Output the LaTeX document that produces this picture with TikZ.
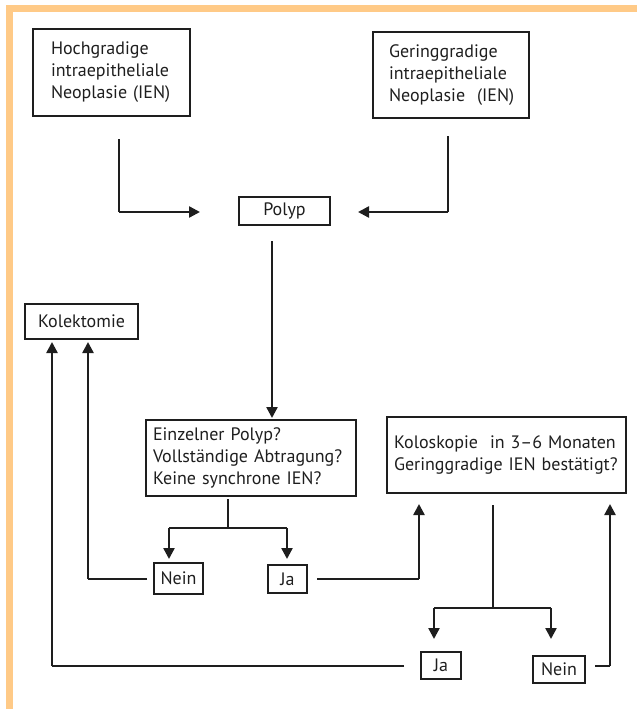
\documentclass[tikz,border=0pt]{standalone}
\usepackage{fontspec}
\setmainfont{PT Sans}
\usetikzlibrary{arrows.meta}
\definecolor{frameorange}{RGB}{255,202,135}
\definecolor{ink}{RGB}{30,30,30}
\tikzset{
  box/.style={draw=ink, line width=1.2pt, text=ink, font=\fontsize{18pt}{22pt}\selectfont, inner sep=0pt, minimum width=#1},
  multibox/.style={draw=ink, line width=1.2pt, text=ink, font=\fontsize{18pt}{22pt}\selectfont, align=left, inner ysep=0pt},
  thinln/.style={draw=ink, line width=1.2pt},
  midln/.style={draw=ink, line width=1.7pt},
  arr/.style={draw=ink, line width=2.4pt, -{Triangle[length=11pt,width=11pt]}},
}
\begin{document}
\begin{tikzpicture}[x=1pt,y=-1pt]
\useasboundingbox (0,0) rectangle (637,709);
% orange frame
\fill[frameorange] (6,5) rectangle (637,12);
\fill[frameorange] (6,5) rectangle (13,709);

% nodes
\node[multibox, text width=121pt, inner xsep=18pt, minimum height=87pt] (hoch) at (111.5,72.5)
  {\mbox{Hochgradige}\\\mbox{intraepitheliale}\\\mbox{Neoplasie (IEN)}};
\node[multibox, text width=124pt, inner xsep=16pt, minimum height=86pt] (ger) at (451,75)
  {\mbox{Geringgradige}\\\mbox{intraepitheliale}\\\mbox{Neoplasie\ \ (IEN)}};
\node[box=91pt, minimum height=28pt] (polyp) at (284.5,211) {Polyp};
\node[box=113pt, minimum height=35pt] (kol) at (81.5,321.5) {Kolektomie};
\node[multibox, text width=196pt, inner xsep=7pt, minimum height=76pt] (einz) at (251,458)
  {\mbox{Einzelner Polyp?}\\\mbox{Vollständige Abtragung?}\\\mbox{Keine synchrone IEN?}};
\node[multibox, text width=225pt, inner xsep=7pt, minimum height=76pt] (kolo) at (506.5,455)
  {\mbox{Koloskopie\ \ in 3–6 Monaten}\\\mbox{Geringgradige IEN bestätigt?}};
\node[box=49pt, minimum height=31pt] (nein1) at (178.5,578.5) {Nein};
\node[box=39pt, minimum height=28pt] (ja1) at (287.5,579) {Ja};
\node[box=40pt, minimum height=27pt] (ja2) at (441,665.5) {Ja};
\node[box=52pt, minimum height=27pt] (nein2) at (559,669.5) {Nein};

% connector coordinates
\coordinate (h1) at (119,139);  \coordinate (h2) at (119,212);  \coordinate (h3) at (200,212);
\coordinate (g1) at (448,136);  \coordinate (g2) at (448,212);  \coordinate (g3) at (358,212);
\coordinate (p1) at (272,241);  \coordinate (p2) at (272,418);
\coordinate (e1) at (228,499);  \coordinate (e2) at (228,528);
\coordinate (eL) at (169,528);  \coordinate (eR) at (287,528);
\coordinate (eLt) at (169,559); \coordinate (eRt) at (287,559);
\coordinate (n1) at (147,579);  \coordinate (n2) at (88,579);   \coordinate (n3) at (88,342);
\coordinate (j1) at (317,579);  \coordinate (j2) at (419,579);  \coordinate (j3) at (419,504);
\coordinate (k1) at (493,505);  \coordinate (k2) at (493,608);
\coordinate (kL) at (434,608);  \coordinate (kR) at (551,608);
\coordinate (kLt) at (434,639); \coordinate (kRt) at (551,639);
\coordinate (a1) at (404,666);  \coordinate (a2) at (52,666);   \coordinate (a3) at (52,342);
\coordinate (b1) at (595,666);  \coordinate (b2) at (610,666);  \coordinate (b3) at (610,504);

% Hochgradige -> Polyp
\draw[thinln] (h1) -- (h2);
\draw[arr] (h2) -- (h3);
% Geringgradige -> Polyp
\draw[thinln] (g1) -- (g2);
\draw[arr] (g2) -- (g3);
% Polyp -> Einzelner
\draw[arr] (p1) -- (p2);
% Einzelner branch
\draw[thinln] (e1) -- (e2);
\draw[midln] (eL) -- (eR);
\draw[arr] (eL) -- (eLt);
\draw[arr] (eR) -- (eRt);
% Nein -> Kolektomie
\draw[thinln] (n1) -- (n2);
\draw[arr] (n2) -- (n3);
% Ja -> Koloskopie
\draw[thinln] (j1) -- (j2);
\draw[arr] (j2) -- (j3);
% Koloskopie branch
\draw[thinln] (k1) -- (k2);
\draw[midln] (kL) -- (kR);
\draw[arr] (kL) -- (kLt);
\draw[arr] (kR) -- (kRt);
% Ja -> Kolektomie
\draw[thinln] (a1) -- (a2);
\draw[arr] (a2) -- (a3);
% Nein -> Koloskopie
\draw[thinln] (b1) -- (b2);
\draw[arr] (b2) -- (b3);
\end{tikzpicture}
\end{document}
